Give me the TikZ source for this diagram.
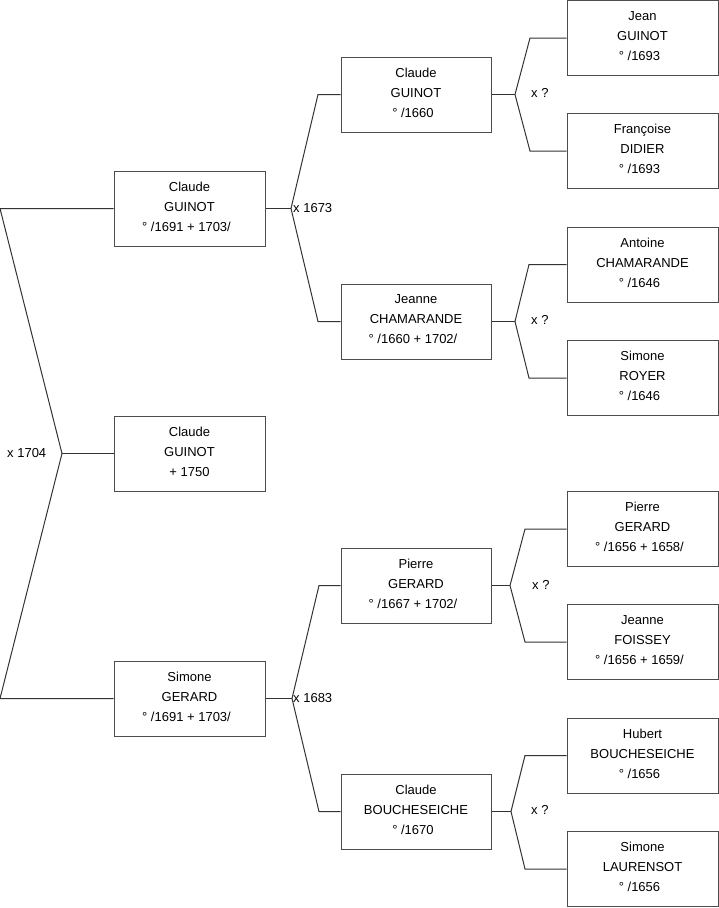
\documentclass[tikz,border=0pt]{standalone}
\usepackage{fontspec}
\setmainfont{Liberation Sans}
\newcommand{\bdate}[1]{#1\hspace*{6pt}}
\tikzset{
	person/.style = {draw = black!70, line width = 1pt, minimum width = 151pt, minimum height = 75pt, inner sep = 0pt, text depth = 4pt, align = center, font = \fontsize{13}{20}\selectfont},
	link/.style = {draw = black!80, line width = 1pt},
	wed/.style = {anchor = west, inner sep = 0pt, font = \fontsize{13}{15}\selectfont}
}
\begin{document}
\begin{tikzpicture}[x = 1pt, y = -1pt]
	\useasboundingbox (0,0) rectangle (719,908);
	% persons, numbered as in a sosa list
	\node [person] (s1) at (189.5,453.5) {Claude\\GUINOT\\ + 1750};
	\node [person] (s2) at (189.5,208.5) {Claude\\GUINOT\\\bdate{° /1691 + 1703/}};
	\node [person] (s3) at (189.5,698.5) {Simone\\GERARD\\\bdate{° /1691 + 1703/}};
	\node [person, minimum width = 150pt] (s4) at (416,94.5) {Claude\\GUINOT\\\bdate{° /1660}};
	\node [person, minimum width = 150pt] (s5) at (416,321.5) {Jeanne\\CHAMARANDE\\\bdate{° /1660 + 1702/}};
	\node [person, minimum width = 150pt] (s6) at (416,585.5) {Pierre\\GERARD\\\bdate{° /1667 + 1702/}};
	\node [person, minimum width = 150pt] (s7) at (416,811.5) {Claude\\BOUCHESEICHE\\\bdate{° /1670}};
	\node [person] (s8) at (642.5,38) {Jean\\GUINOT\\\bdate{° /1693}};
	\node [person] (s9) at (642.5,151) {Françoise\\DIDIER\\\bdate{° /1693}};
	\node [person] (s10) at (642.5,264.5) {Antoine\\CHAMARANDE\\\bdate{° /1646}};
	\node [person] (s11) at (642.5,378) {Simone\\ROYER\\\bdate{° /1646}};
	\node [person] (s12) at (642.5,529) {Pierre\\GERARD\\\bdate{° /1656 + 1658/}};
	\node [person] (s13) at (642.5,642) {Jeanne\\FOISSEY\\\bdate{° /1656 + 1659/}};
	\node [person] (s14) at (642.5,755.5) {Hubert\\BOUCHESEICHE\\\bdate{° /1656}};
	\node [person] (s15) at (642.5,869) {Simone\\LAURENSOT\\\bdate{° /1656}};
	% forks of the couples
	\coordinate (m1) at (62,453.5);
	\coordinate (a2) at (0,208.5);
	\coordinate (a3) at (0,698.5);
	\coordinate (m2) at (291,208.5);
	\coordinate (a4) at (318,94.5);
	\coordinate (a5) at (318,321.5);
	\coordinate (m3) at (292,698.5);
	\coordinate (a6) at (319,585.5);
	\coordinate (a7) at (319,811.5);
	\coordinate (m4) at (515,94.5);
	\coordinate (a8) at (530,38);
	\coordinate (a9) at (530,151);
	\coordinate (m5) at (515,321.5);
	\coordinate (a10) at (529,264.5);
	\coordinate (a11) at (529,378);
	\coordinate (m6) at (510,585.5);
	\coordinate (a12) at (525,529);
	\coordinate (a13) at (525,642);
	\coordinate (m7) at (511,811.5);
	\coordinate (a14) at (525,755.5);
	\coordinate (a15) at (525,869);
	\draw [link] (s1.west) -- (m1);
	\draw [link] (s2.west) -- (a2) -- (m1) -- (a3) -- (s3.west);
	\draw [link] (s2.east) -- (m2);
	\draw [link] (s4.west) -- (a4) -- (m2) -- (a5) -- (s5.west);
	\draw [link] (s3.east) -- (m3);
	\draw [link] (s6.west) -- (a6) -- (m3) -- (a7) -- (s7.west);
	\draw [link] (s4.east) -- (m4);
	\draw [link] (s8.west) -- (a8) -- (m4) -- (a9) -- (s9.west);
	\draw [link] (s5.east) -- (m5);
	\draw [link] (s10.west) -- (a10) -- (m5) -- (a11) -- (s11.west);
	\draw [link] (s6.east) -- (m6);
	\draw [link] (s12.west) -- (a12) -- (m6) -- (a13) -- (s13.west);
	\draw [link] (s7.east) -- (m7);
	\draw [link] (s14.west) -- (a14) -- (m7) -- (a15) -- (s15.west);
	% wedding dates
	\node [wed] (w1) at (7,453.5) {x 1704};
	\node [wed] (w2) at (293,208.5) {x 1673};
	\node [wed] (w3) at (293,698.5) {x 1683};
	\node [wed] (w4) at (531,93) {x ?};
	\node [wed] (w5) at (531,320) {x ?};
	\node [wed] (w6) at (532,585) {x ?};
	\node [wed] (w7) at (531,810) {x ?};
\end{tikzpicture}
\end{document}
